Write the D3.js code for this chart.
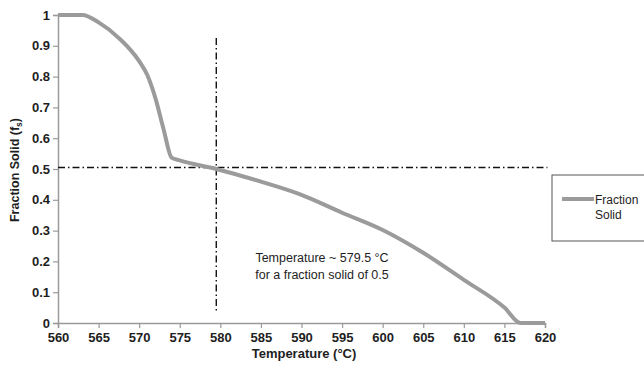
<!DOCTYPE html>
<html><head><meta charset="utf-8">
<script src="https://cdn.jsdelivr.net/npm/d3@7"></script>
<style>body{margin:0;background:#fff}svg{display:block}</style>
</head><body>
<svg id="c" width="644" height="368"></svg>
<script>
const temps = [560, 563, 565, 567.5, 570, 571, 572, 573, 574, 575, 579.5, 585, 590, 595, 600, 605, 610, 615, 617, 620];
const fracSolid = [1, 1, 0.976, 0.925, 0.85, 0.805, 0.73, 0.63, 0.537, 0.528, 0.5, 0.459, 0.416, 0.358, 0.302, 0.228, 0.14, 0.05, 0, 0];
const xTicks = [560, 565, 570, 575, 580, 585, 590, 595, 600, 605, 610, 615, 620];
const yTicks = [0, 0.1, 0.2, 0.3, 0.4, 0.5, 0.6, 0.7, 0.8, 0.9, 1];
const refTemp = 579.5, refFrac = 0.505;
const vLineRange = [0.037, 0.925];
const hLineRange = [560, 620.3];
const seriesName = ["Fraction", "Solid"];
const noteLines = ["Temperature ~ 579.5 °C", "for a fraction solid of 0.5"];

const svg = d3.select("#c");
const x = d3.scaleLinear().domain([560, 620]).range([58, 545]);
const y = d3.scaleLinear().domain([0, 1]).range([323, 15]);
const font = "'Liberation Sans', Arial, sans-serif";
const axisCol = "#9a9a9a";
const txtCol = "#1e1e1e";

// axes
const xa = svg.append("g").attr("transform", "translate(0,323)")
  .call(d3.axisBottom(x).tickValues(xTicks).tickSize(5).tickPadding(5).tickFormat(d3.format("d")));
const ya = svg.append("g").attr("transform", "translate(58,0)")
  .call(d3.axisLeft(y).tickValues(yTicks).tickSize(5).tickPadding(3).tickFormat(d => d === 0 || d === 1 ? String(d) : d3.format(".1f")(d)));
[xa, ya].forEach(a => {
  a.select(".domain").attr("stroke", axisCol).attr("stroke-width", 1.5);
  a.selectAll(".tick line").attr("stroke", axisCol).attr("stroke-width", 1.2);
  a.selectAll("text").attr("font-family", font).attr("font-weight", "bold").attr("font-size", 13).attr("fill", txtCol);
});

// reference lines
const dash = "7,3,1.5,3";
svg.append("line").attr("x1", x(refTemp)).attr("x2", x(refTemp))
  .attr("y1", y(vLineRange[1])).attr("y2", y(vLineRange[0]))
  .attr("stroke", "#111").attr("stroke-width", 1.4).attr("stroke-dasharray", dash);
svg.append("line").attr("x1", x(hLineRange[0])).attr("x2", x(hLineRange[1]))
  .attr("y1", y(refFrac)).attr("y2", y(refFrac))
  .attr("stroke", "#111").attr("stroke-width", 1.4).attr("stroke-dasharray", dash);

// curve
const data = temps.map((t, i) => [t, fracSolid[i]]);
svg.append("path").datum(data)
  .attr("d", d3.line().x(d => x(d[0])).y(d => y(d[1])).curve(d3.curveMonotoneX))
  .attr("fill", "none").attr("stroke", "#9b9b9b").attr("stroke-width", 4).attr("stroke-linejoin", "round");

// axis titles
svg.append("text").attr("x", 304).attr("y", 358).attr("text-anchor", "middle")
  .attr("font-family", font).attr("font-weight", "bold").attr("font-size", 13).attr("fill", txtCol)
  .text("Temperature (°C)");
const yt = svg.append("text").attr("transform", "translate(19,170) rotate(-90)").attr("text-anchor", "middle")
  .attr("font-family", font).attr("font-weight", "bold").attr("font-size", 12.5).attr("fill", txtCol);
yt.append("tspan").text("Fraction Solid (f");
yt.append("tspan").attr("font-size", 8.5).attr("dy", 3).text("s");
yt.append("tspan").attr("dy", -3).text(")");

// annotation
noteLines.forEach((t, i) => svg.append("text").attr("x", 322).attr("y", 262 + i * 17)
  .attr("text-anchor", "middle").attr("font-family", font).attr("font-size", 12.5).attr("fill", txtCol).text(t));

// legend
svg.append("rect").attr("x", 552).attr("y", 175).attr("width", 100).attr("height", 66)
  .attr("fill", "#fff").attr("stroke", "#555").attr("stroke-width", 1);
svg.append("line").attr("x1", 562).attr("x2", 594).attr("y1", 199).attr("y2", 199)
  .attr("stroke", "#9b9b9b").attr("stroke-width", 4);
seriesName.forEach((t, i) => svg.append("text").attr("x", 595).attr("y", 204 + i * 15)
  .attr("font-family", font).attr("font-size", 12).attr("fill", txtCol).text(t));
</script>
</body></html>
